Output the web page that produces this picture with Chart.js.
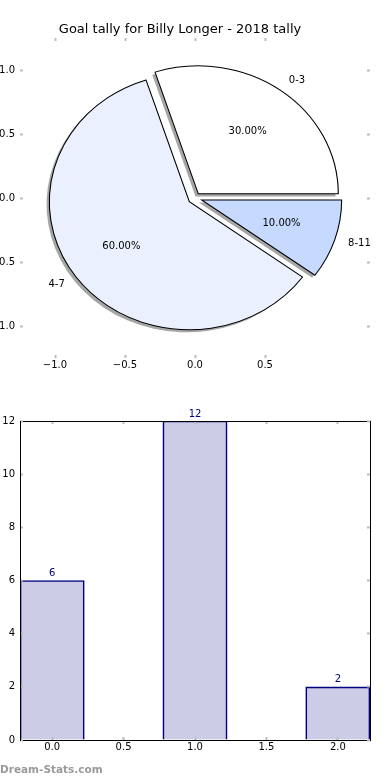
<!DOCTYPE html>
<html>
<head>
<meta charset="utf-8">
<script src="https://cdn.jsdelivr.net/npm/chart.js@4.4.1/dist/chart.umd.min.js"></script>
<style>
  html, body { margin: 0; padding: 0; background: #fff; }
  body { width: 390px; height: 780px; position: relative; overflow: hidden; }
  canvas { position: absolute; left: -30px; }
  #pieChart { top: 0; }
  #barChart { top: 390px; }
  #credit { position: absolute; left: 0; top: 763px; line-height: 12px;
            font: bold 10.5px 'DejaVu Sans', sans-serif; color: #9a9a9a; }
</style>
</head>
<body>
<canvas id="pieChart" width="420" height="390"></canvas>
<canvas id="barChart" width="420" height="390"></canvas>
<div id="credit">Dream-Stats.com</div>
<script>
// Pie data
const chartTitle = 'Goal tally for Billy Longer - 2018 tally';
const pieLabels = ['0-3', '4-7', '8-11'];
const pieValues = [6, 12, 2];
const pieXTicks = [-1, -0.5, 0, 0.5];
const pieYTicks = [-1, -0.5, 0, 0.5, 1];

// Bar data
const barCategories = [0, 1, 2];
const barValues = [6, 12, 2];
const barXTicks = [0, 0.5, 1, 1.5, 2];
const barYTicks = [0, 2, 4, 6, 8, 10, 12];

// Styles
const pieColors = ['#ffffff', '#eaf0fd', '#c6d9fe'];
const pieExplode = [0.04, 0.05, 0.05];
const pieShadow = 0.02;
const pieLimit = 1.25;
const barWidth = 0.45;
const navy = '#000080';
const tickGrey = '#bdbdbd';

Chart.defaults.font.family = '"DejaVu Sans", sans-serif';
Chart.defaults.font.size = 10;
Chart.defaults.color = '#000';

const rev = a => a.slice().reverse();
const fmt1 = v => v.toFixed(1).replace('-', '\u2212');
const unitPx = s => Math.abs(s.getPixelForValue(1) - s.getPixelForValue(0));

function makeAxis(position, min, max, tickValues, size, showLabels, fmt, showBorder) {
    const vertical = position === 'left' || position === 'right';
    return {
        type: 'linear',
        position: position,
        min: min,
        max: max,
        offset: false,
        border: { display: showBorder, color: '#000', width: 1, z: 1 },
        grid: {
            drawOnChartArea: false,
            drawTicks: true,
            tickLength: -3,
            tickColor: tickGrey,
            tickWidth: 2,
            offset: false,
            z: 1
        },
        ticks: {
            display: showLabels,
            padding: vertical ? 8 : 4,
            callback: fmt
        },
        afterBuildTicks: s => { s.ticks = tickValues.map(v => ({ value: v })); },
        afterFit: s => { if (vertical) s.width = size; else s.height = size; }
    };
}

// stretch the pie to the axes' units
function stretch(chart) {
    const { x, y } = chart.scales;
    const cx = x.getPixelForValue(0), cy = y.getPixelForValue(0);
    const ctx = chart.ctx;
    ctx.translate(cx, cy);
    ctx.scale(unitPx(x) / unitPx(y), 1);
    ctx.translate(-cx, -cy);
}

// Explode, stretch, shadow and labels for the pie
const pieDecor = {
    id: 'pieDecor',
    afterDatasetUpdate(chart, args) {
        if (args.meta.type !== 'pie') return;
        const explode = rev(pieExplode);
        args.meta.data.forEach((arc, i) => {
            const mid = (arc.startAngle + arc.endAngle) / 2;
            arc.x += Math.cos(mid) * explode[i] * arc.outerRadius;
            arc.y += Math.sin(mid) * explode[i] * arc.outerRadius;
        });
    },
    beforeDatasetsDraw(chart) {
        const { x, y } = chart.scales;
        const ctx = chart.ctx;
        const arcs = chart.getDatasetMeta(0).data;
        // shadow pass, offset left and down like matplotlib
        ctx.save();
        ctx.translate(x.getPixelForValue(-pieShadow) - x.getPixelForValue(0),
                      y.getPixelForValue(-pieShadow) - y.getPixelForValue(0));
        stretch(chart);
        ctx.fillStyle = 'rgba(77,77,77,0.5)';
        arcs.forEach(arc => {
            ctx.beginPath();
            ctx.moveTo(arc.x, arc.y);
            ctx.arc(arc.x, arc.y, arc.outerRadius, arc.startAngle, arc.endAngle);
            ctx.closePath();
            ctx.fill();
        });
        ctx.restore();
        ctx.save();
        stretch(chart);
    },
    afterDatasetsDraw(chart) {
        const ctx = chart.ctx;
        ctx.restore();
        const { x, y } = chart.scales;
        const arcs = rev(chart.getDatasetMeta(0).data);
        const total = pieValues.reduce((a, b) => a + b, 0);
        ctx.save();
        ctx.font = '10px "DejaVu Sans"';
        ctx.fillStyle = '#000';
        ctx.textBaseline = 'middle';
        arcs.forEach((arc, i) => {
            const a = -(arc.startAngle + arc.endAngle) / 2;
            const ex = pieExplode[i] * Math.cos(a), ey = pieExplode[i] * Math.sin(a);
            const lx = ex + 1.1 * Math.cos(a), ly = ey + 1.1 * Math.sin(a);
            ctx.textAlign = lx > 0 ? 'left' : 'right';
            ctx.fillText(pieLabels[i], x.getPixelForValue(lx), y.getPixelForValue(ly));
            ctx.textAlign = 'center';
            ctx.fillText((pieValues[i] / total * 100).toFixed(2) + '%',
                x.getPixelForValue(ex + 0.6 * Math.cos(a)),
                y.getPixelForValue(ey + 0.6 * Math.sin(a)));
        });
        ctx.restore();
    }
};

new Chart(document.getElementById('pieChart'), {
    type: 'scatter',
    data: {
        datasets: [{
            type: 'pie',
            data: rev(pieValues),
            backgroundColor: rev(pieColors),
            borderColor: '#000',
            borderWidth: 1,
            borderJoinStyle: 'miter',
            rotation: 90,
            radius: c => unitPx(c.chart.scales.y),
            clip: false
        }]
    },
    options: {
        responsive: false,
        animation: false,
        events: [],
        layout: { padding: 0 },
        plugins: {
            legend: { display: false },
            tooltip: { enabled: false },
            title: {
                display: true,
                text: chartTitle,
                color: '#000',
                font: { size: 13, weight: 'normal' },
                padding: { top: 22, bottom: 0.4 }
            }
        },
        scales: {
            x: makeAxis('bottom', -pieLimit, pieLimit, pieXTicks, 32, true, fmt1, false),
            x2: makeAxis('top', -pieLimit, pieLimit, pieXTicks, 0, false, fmt1, false),
            y: makeAxis('left', -pieLimit, pieLimit, pieYTicks, 50, true, fmt1, false),
            y2: makeAxis('right', -pieLimit, pieLimit, pieYTicks, 20, false, fmt1, false)
        }
    },
    plugins: [pieDecor]
});

// Value labels above the bars
const barLabels = {
    id: 'barLabels',
    afterDatasetsDraw(chart) {
        const ctx = chart.ctx;
        ctx.save();
        ctx.font = '10px "DejaVu Sans"';
        ctx.fillStyle = navy;
        ctx.textAlign = 'center';
        ctx.textBaseline = 'alphabetic';
        chart.getDatasetMeta(0).data.forEach((bar, i) => {
            ctx.fillText(String(barValues[i]), bar.x, bar.y - 4.5);
        });
        ctx.restore();
    }
};

const barMin = barCategories[0] - barWidth / 2;
const barMax = barCategories[barCategories.length - 1] + barWidth / 2;
const intFmt = v => String(v);

new Chart(document.getElementById('barChart'), {
    type: 'bar',
    data: {
        datasets: [{
            data: barCategories.map((c, i) => ({ x: c, y: barValues[i] })),
            backgroundColor: 'rgba(0,0,128,0.2)',
            borderColor: navy,
            borderWidth: 1,
            borderSkipped: 'start',
            barThickness: c => unitPx(c.chart.scales.x) * barWidth
        }]
    },
    options: {
        responsive: false,
        animation: false,
        events: [],
        layout: { padding: 0 },
        plugins: {
            legend: { display: false },
            tooltip: { enabled: false }
        },
        scales: {
            x: makeAxis('bottom', barMin, barMax, barXTicks, 40, true, fmt1, true),
            x2: makeAxis('top', barMin, barMax, barXTicks, 31, false, fmt1, true),
            y: makeAxis('left', 0, 12, barYTicks, 50, true, intFmt, true),
            y2: makeAxis('right', 0, 12, barYTicks, 20, false, intFmt, true)
        }
    },
    plugins: [barLabels]
});
</script>
</body>
</html>
